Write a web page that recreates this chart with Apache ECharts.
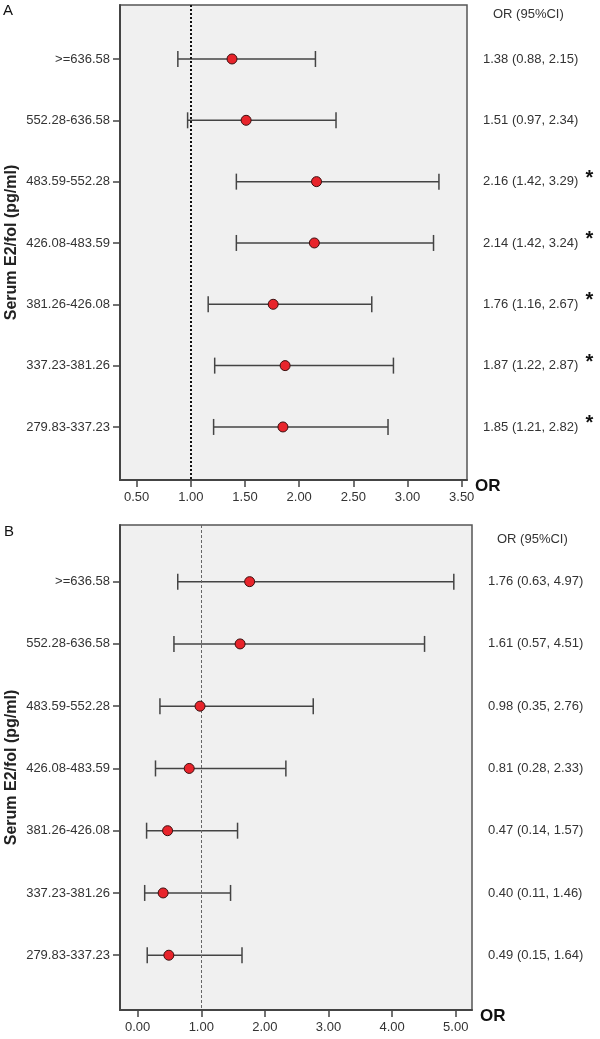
<!DOCTYPE html>
<html>
<head>
<meta charset="utf-8">
<script src="https://cdn.jsdelivr.net/npm/echarts@6/dist/echarts.min.js"></script>
<style>
html,body{margin:0;padding:0;background:#fff;}
#chart{width:600px;height:1039px;}
</style>
</head>
<body>
<div id="chart"></div>
<script>
// ---- Data ----
const categories = ['>=636.58','552.28-636.58','483.59-552.28','426.08-483.59','381.26-426.08','337.23-381.26','279.83-337.23'];
// Panel A
const orA  = [1.38, 1.51, 2.16, 2.14, 1.76, 1.87, 1.85];
const lowA = [0.88, 0.97, 1.42, 1.42, 1.16, 1.22, 1.21];
const upA  = [2.15, 2.34, 3.29, 3.24, 2.67, 2.87, 2.82];
const sigA = [false, false, true, true, true, true, true];
// Panel B
const orB  = [1.76, 1.61, 0.98, 0.81, 0.47, 0.40, 0.49];
const lowB = [0.63, 0.57, 0.35, 0.28, 0.14, 0.11, 0.15];
const upB  = [4.97, 4.51, 2.76, 2.33, 1.57, 1.46, 1.64];
const sigB = [false, false, false, false, false, false, false];
// Tick labels
const ticksA = [0.5, 1.0, 1.5, 2.0, 2.5, 3.0, 3.5];
const ticksB = [0, 1, 2, 3, 4, 5];
const refValue = 1.0;
const yTitle = 'Serum E2/fol (pg/ml)';
const xTitle = 'OR';
const colHeader = 'OR (95%CI)';

// ---- Chart ----
const FONT = '"Liberation Sans", Arial, sans-serif';
const rowIdx = categories.map((c, i) => i);
const chart = echarts.init(document.getElementById('chart'), null, {renderer: 'canvas'});

function ciText(or, lo, up) {
  return or.toFixed(2) + ' (' + lo.toFixed(2) + ', ' + up.toFixed(2) + ')';
}

function leftY(gridIndex, min, max) {
  return {
    type: 'value', gridIndex: gridIndex, inverse: true, min: min, max: max,
    splitLine: {show: false},
    axisLine: {show: true, onZero: false, lineStyle: {color: '#444', width: 2}},
    axisTick: {show: true, length: 7, customValues: rowIdx, lineStyle: {color: '#444', width: 1.5}},
    axisLabel: {
      customValues: rowIdx, margin: 10, color: '#333', fontSize: 13, fontFamily: FONT,
      formatter: v => categories[Math.round(v)]
    },
    name: yTitle, nameLocation: 'middle', nameGap: 100, nameRotate: 90, nameMoveOverlap: false,
    nameTextStyle: {fontSize: 16, fontWeight: 'bold', color: '#222', fontFamily: FONT}
  };
}
function rightY(gridIndex, min, max, ors, los, ups, sigs) {
  return {
    type: 'value', gridIndex: gridIndex, inverse: true, min: min, max: max, position: 'right',
    splitLine: {show: false},
    axisLine: {show: false, onZero: false}, axisTick: {show: false},
    axisLabel: {
      customValues: rowIdx, margin: 16, color: '#333', fontSize: 13, fontFamily: FONT,
      formatter: v => {
        const i = Math.round(v);
        return '{t|' + ciText(ors[i], los[i], ups[i]) + '}' + (sigs[i] ? '{s|*}' : '');
      },
      rich: {
        t: {fontSize: 13, color: '#333', fontFamily: FONT},
        s: {fontSize: 20, fontWeight: 'bold', color: '#111', fontFamily: FONT, padding: [0, 0, 7, 7]}
      }
    }
  };
}
function xAx(gridIndex, min, max, ticks) {
  return {
    type: 'value', gridIndex: gridIndex, min: min, max: max,
    splitLine: {show: false},
    axisLine: {show: true, onZero: false, lineStyle: {color: '#444', width: 2}},
    axisTick: {show: true, length: 7, customValues: ticks, lineStyle: {color: '#444', width: 1.5}},
    axisLabel: {customValues: ticks, margin: 11, color: '#333', fontSize: 13, fontFamily: FONT,
      formatter: v => Number(v).toFixed(2)},
    name: xTitle, nameLocation: 'end', nameGap: 8, nameMoveOverlap: false,
    nameTextStyle: {fontSize: 17, fontWeight: 'bold', color: '#111', fontFamily: FONT,
      verticalAlign: 'top', padding: [-2, 0, 0, 0]}
  };
}

function errorSeries(xi, yi, lows, ups, lineStyleRef) {
  return {
    type: 'custom', xAxisIndex: xi, yAxisIndex: yi, z: 2,
    data: categories.map((c, i) => [lows[i], ups[i], i]),
    encode: {x: [0, 1], y: 2},
    renderItem: function (params, api) {
      const y = api.value(2);
      const p1 = api.coord([api.value(0), y]);
      const p2 = api.coord([api.value(1), y]);
      const h = 8;
      const st = {stroke: '#444', lineWidth: 1.5};
      return {type: 'group', children: [
        {type: 'line', shape: {x1: p1[0], y1: p1[1], x2: p2[0], y2: p2[1]}, style: st},
        {type: 'line', shape: {x1: p1[0], y1: p1[1] - h, x2: p1[0], y2: p1[1] + h}, style: st},
        {type: 'line', shape: {x1: p2[0], y1: p2[1] - h, x2: p2[0], y2: p2[1] + h}, style: st}
      ]};
    },
    markLine: {
      silent: true, symbol: ['none', 'none'], label: {show: false},
      lineStyle: lineStyleRef,
      data: [{xAxis: refValue}]
    }
  };
}
function pointSeries(xi, yi, ors) {
  return {
    type: 'scatter', xAxisIndex: xi, yAxisIndex: yi, z: 5,
    data: categories.map((c, i) => [ors[i], i]),
    symbol: 'circle', symbolSize: 10,
    itemStyle: {color: '#e8242b', borderColor: '#3a1010', borderWidth: 1, opacity: 1}
  };
}

const option = {
  backgroundColor: '#ffffff',
  animation: false,
  grid: [
    {left: 120, top: 5, width: 347, height: 475, show: true, backgroundColor: '#f0f0f0',
     borderColor: '#555', borderWidth: 1.5, containLabel: false, outerBoundsMode: 'none'},
    {left: 120, top: 525, width: 352, height: 485, show: true, backgroundColor: '#f0f0f0',
     borderColor: '#555', borderWidth: 1.5, containLabel: false, outerBoundsMode: 'none'}
  ],
  xAxis: [
    xAx(0, 0.346, 3.549, ticksA),
    xAx(1, -0.278, 5.256, ticksB)
  ],
  yAxis: [
    leftY(0, -0.88, 6.865),
    rightY(0, -0.88, 6.865, orA, lowA, upA, sigA),
    leftY(1, -0.91, 6.88),
    rightY(1, -0.91, 6.88, orB, lowB, upB, sigB)
  ],
  graphic: [
    {type: 'text', left: 3, top: 3, style: {text: 'A', fontSize: 15, fill: '#111', fontFamily: FONT}},
    {type: 'text', left: 4, top: 524, style: {text: 'B', fontSize: 15, fill: '#111', fontFamily: FONT}},
    {type: 'text', left: 493, top: 8, style: {text: colHeader, fontSize: 13, fill: '#333', fontFamily: FONT}},
    {type: 'text', left: 497, top: 533, style: {text: colHeader, fontSize: 13, fill: '#333', fontFamily: FONT}}
  ],
  series: [
    errorSeries(0, 0, lowA, upA, {type: 'dotted', width: 2, color: '#111'}),
    pointSeries(0, 0, orA),
    errorSeries(1, 2, lowB, upB, {type: [3, 2], width: 1, color: '#666'}),
    pointSeries(1, 2, orB)
  ]
};
chart.setOption(option);
</script>
</body>
</html>
